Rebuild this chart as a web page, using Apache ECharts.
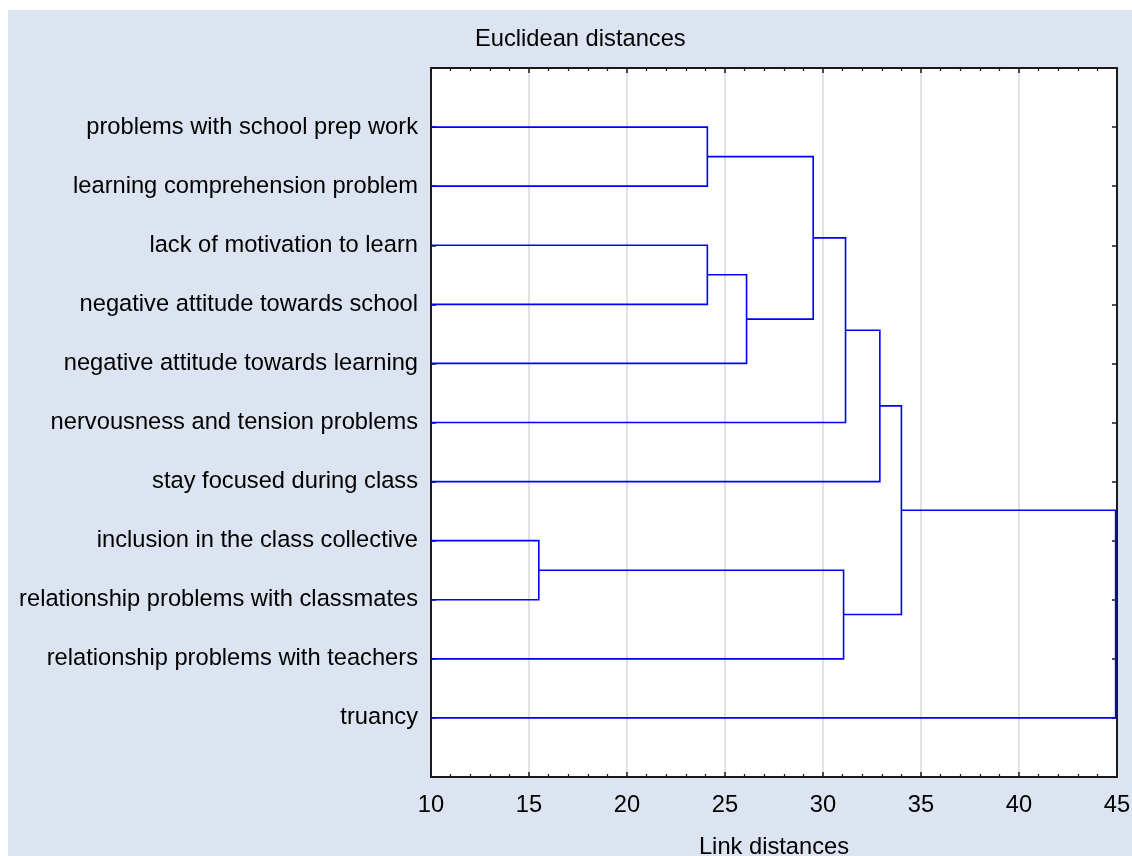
<!DOCTYPE html>
<html>
<head>
<meta charset="utf-8">
<script src="https://cdn.jsdelivr.net/npm/echarts@6/dist/echarts.min.js"></script>
<style>
html,body{margin:0;padding:0;background:#fff;}
#chart{position:absolute;left:8px;top:10px;width:1124px;height:846px;}
</style>
</head>
<body>
<div id="chart"></div>
<script>
// Leaves, top to bottom
const leaves = [
  'problems with school prep work',
  'learning comprehension problem',
  'lack of motivation to learn',
  'negative attitude towards school',
  'negative attitude towards learning',
  'nervousness and tension problems',
  'stay focused during class',
  'inclusion in the class collective',
  'relationship problems with classmates',
  'relationship problems with teachers',
  'truancy'
];
// Merges: [nodeA, nodeB, link distance]; leaves are 0..10, new clusters 11, 12, ...
const mergeA = [0, 2, 12, 11, 14, 15, 7, 17, 16, 19];
const mergeB = [1, 3, 4, 13, 5, 6, 8, 9, 18, 10];
const mergeH = [24.1, 24.1, 26.1, 29.5, 31.15, 32.9, 15.5, 31.05, 34.0, 44.93];
const xTicks = [10, 15, 20, 25, 30, 35, 40, 45];

const X_MIN = 10, X_MAX = 45;
const nodeY = leaves.map((_, i) => i + 1);
const nodeH = leaves.map(() => X_MIN);
const segs = [];
for (let k = 0; k < mergeH.length; k++) {
  const a = mergeA[k], b = mergeB[k], h = mergeH[k];
  segs.push([nodeH[a], nodeY[a], h, nodeY[b], nodeH[b]]);
  nodeY.push((nodeY[a] + nodeY[b]) / 2);
  nodeH.push(h);
}

const FONT = '"Liberation Sans", Arial, sans-serif';
const FS = 23.7;
const chart = echarts.init(document.getElementById('chart'), null, {renderer: 'canvas'});
const axisLineStyle = {color: '#1a1a1a', width: 2};
chart.setOption({
  backgroundColor: '#dbe4f0',
  animation: false,
  title: {
    text: 'Euclidean distances', left: 462, top: 12,
    textStyle: {fontFamily: FONT, fontSize: FS, fontWeight: 'normal', color: '#000'}
  },
  grid: {left: 423, top: 58, width: 686, height: 709, show: true, backgroundColor: '#fff', borderWidth: 0,
    containLabel: false, outerBoundsMode: 'none'},
  xAxis: [
    {
      type: 'value', position: 'bottom', min: X_MIN, max: X_MAX, interval: 5,
      name: 'Link distances', nameLocation: 'middle', nameGap: 58,
      nameTextStyle: {fontFamily: FONT, fontSize: FS, color: '#000'},
      axisLine: {show: true, onZero: false, lineStyle: axisLineStyle},
      axisTick: {show: true, inside: true, length: 5, lineStyle: {color: '#1a1a1a', width: 1.5}},
      minorTick: {show: true, splitNumber: 5, length: 3, lineStyle: {color: '#1a1a1a', width: 1.2}},
      axisLabel: {fontFamily: FONT, fontSize: FS, color: '#000', margin: 16,
        formatter: v => xTicks.includes(v) ? String(v) : ''},
      splitLine: {show: true, lineStyle: {color: '#d9d9d9', width: 1.5}}
    },
    {
      type: 'value', position: 'top', min: X_MIN, max: X_MAX, interval: 5,
      axisLine: {show: true, onZero: false, lineStyle: axisLineStyle},
      axisTick: {show: true, inside: true, length: 5, lineStyle: {color: '#1a1a1a', width: 1.5}},
      minorTick: {show: true, splitNumber: 5, length: 3, lineStyle: {color: '#1a1a1a', width: 1.2}},
      axisLabel: {show: false}, splitLine: {show: false}
    }
  ],
  yAxis: [
    {
      type: 'value', position: 'left', min: 0, max: 12, interval: 1, inverse: true,
      axisLine: {show: true, onZero: false, lineStyle: axisLineStyle},
      axisTick: {show: true, inside: true, length: 5, lineStyle: {color: '#1a1a1a', width: 1.5}},
      axisLabel: {fontFamily: FONT, fontSize: FS, color: '#000', margin: 13,
        formatter: v => leaves[v - 1] || ''},
      splitLine: {show: false}
    },
    {
      type: 'value', position: 'right', min: 0, max: 12, interval: 1, inverse: true,
      axisLine: {show: true, onZero: false, lineStyle: axisLineStyle},
      axisTick: {show: true, inside: true, length: 5, lineStyle: {color: '#1a1a1a', width: 1.5}},
      axisLabel: {show: false}, splitLine: {show: false}
    }
  ],
  series: [{
    type: 'custom',
    xAxisIndex: 0, yAxisIndex: 0,
    clip: true,
    data: segs,
    dimensions: ['ha', 'ya', 'h', 'yb', 'hb'],
    encode: {x: [0, 2, 4], y: [1, 3]},
    renderItem: function (params, api) {
      const ha = api.value(0), ya = api.value(1), h = api.value(2), yb = api.value(3), hb = api.value(4);
      const pts = [api.coord([ha, ya]), api.coord([h, ya]), api.coord([h, yb]), api.coord([hb, yb])];
      return {
        type: 'polyline',
        shape: {points: pts},
        style: {stroke: '#0000ff', lineWidth: 1.6, fill: null}
      };
    }
  }]
});
</script>
</body>
</html>
